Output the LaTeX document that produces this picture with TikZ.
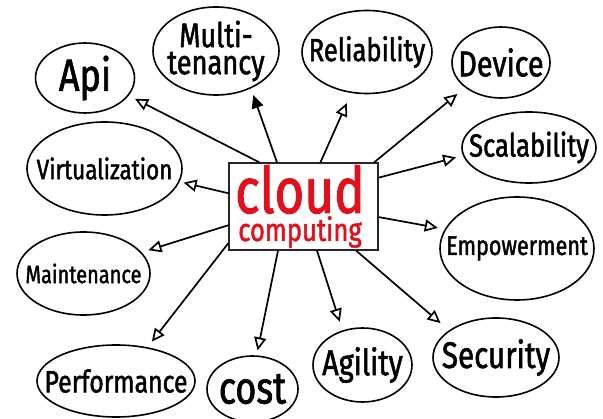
\documentclass[tikz,border=0pt]{standalone}
\usepackage{fontspec}
\setmainfont{Fira Sans}[FakeStretch=0.8, FakeBold=1.5]
\usetikzlibrary{arrows.meta, shapes.geometric}
\definecolor{cloudred}{RGB}{226,16,28}
\newcommand{\handsize}[1]{\fontsize{#1}{#1}\selectfont}

\begin{document}
\begin{tikzpicture}[
			x=1pt, y=-1pt,
			bubble/.style={ellipse, draw, line width=1.6pt, inner sep=-25pt, align=center},
			box/.style={rectangle, draw=black!85, line width=1.3pt, inner sep=0pt, minimum width=149pt, minimum height=87pt},
			word/.style={text=cloudred, anchor=base, inner sep=0pt, text depth=0pt},
			solidtip/.style={-{Triangle[length=13pt, width=12pt]}},
			every edge/.append style={line width=1.7pt, shorten >=7pt},
			->, >={Triangle[open, length=13pt, width=12pt]},
			]
			\useasboundingbox (0,0) rectangle (603,419);
			
			% Mitte
			\node[box] (Cloud) at (303.5,206.5) {};
			\node[word, font=\handsize{64}] (cloudword) at (300,213) {cloud};
			\node[word, font=\handsize{32}] (computingword) at (300,241) {computing};
			
			% Ellipsen im Uhrzeigersinn
			\node[bubble, minimum width=99pt, minimum height=70pt, font=\handsize{45}] (Api) at (85,78) {Api};
			\node[bubble, minimum width=126pt, minimum height=88pt, font=\fontsize{34}{27}\selectfont] (Multi) at (216,51) {Multi-\\tenancy};
			\node[bubble, minimum width=130pt, minimum height=83pt, font=\handsize{32}] (Reliability) at (367,52) {Reliability};
			\node[bubble, minimum width=98pt, minimum height=71pt, font=\handsize{36}] (Device) at (501,62.5) {Device};
			\node[bubble, minimum width=134pt, minimum height=71pt, font=\handsize{32}] (Scalability) at (529,147.5) {Scalability};
			\node[bubble, minimum width=154pt, minimum height=103pt, font=\handsize{27}] (Empowerment) at (517,248.5) {Empowerment};
			\node[bubble, minimum width=126pt, minimum height=79pt, font=\handsize{37}] (Security) at (496,357.5) {Security};
			\node[bubble, minimum width=99pt, minimum height=74pt, font=\handsize{36}] (Agility) at (362.5,365) {Agility};
			\node[bubble, minimum width=91pt, minimum height=66pt, font=\handsize{45}] (Cost) at (252.5,389) {cost};
			\node[bubble, minimum width=158pt, minimum height=72pt, font=\handsize{31}] (Performance) at (116,381) {Performance};
			\node[bubble, minimum width=133pt, minimum height=83pt, font=\handsize{25}] (Maintenance) at (83.5,273.5) {Maintenance};
			\node[bubble, minimum width=155pt, minimum height=93pt, font=\handsize{28}] (Virtualization) at (104.5,168.5) {Virtualization};
			
			% Pfeile
			\path
			(Cloud.135) edge (Api.-22)
			(Cloud.121) edge[solidtip] (Multi.-47)
			(Cloud.69) edge[shorten >=11pt] (Reliability.249)
			(Cloud.32) edge[shorten >=10pt] (Device.215)
			(Cloud.21) edge (Scalability.187)
			(Cloud.-8) edge (Empowerment.165)
			(Cloud.-40) edge[shorten >=11pt] (Security.150)
			(Cloud.-73) edge[shorten >=9pt] (Agility.120)
			(Cloud.240) edge[shorten >=5pt] (Cost.83)
			(Cloud.206) edge (Performance.47)
			(Cloud.194) edge (Maintenance.20)
			(Cloud.170) edge[shorten >=4pt] (Virtualization.-10)
			;
			
		\end{tikzpicture}
\end{document}
